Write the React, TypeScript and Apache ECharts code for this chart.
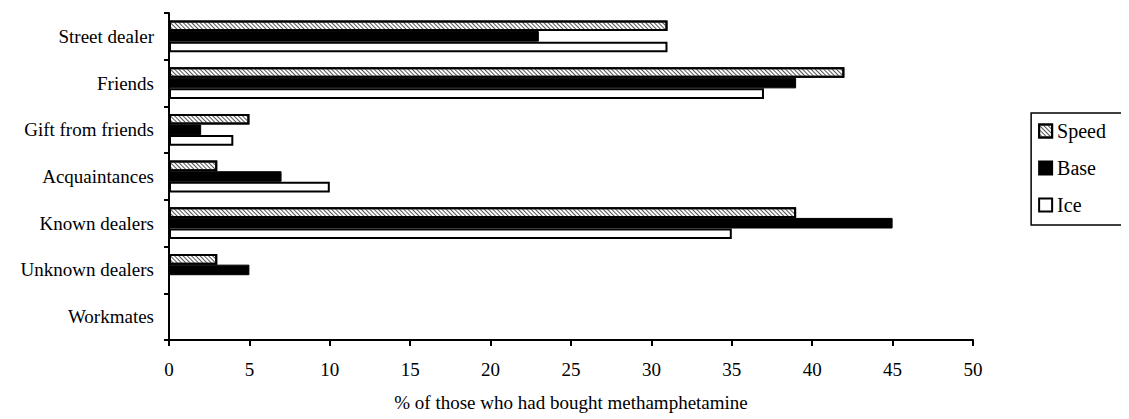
import React, { useEffect, useRef } from "react";
import * as echarts from "echarts";

const categories = [
  "Street dealer",
  "Friends",
  "Gift from friends",
  "Acquaintances",
  "Known dealers",
  "Unknown dealers",
  "Workmates",
];
const speed = [31, 42, 5, 3, 39, 3, 0];
const base = [23, 39, 2, 7, 45, 5, 0];
const ice = [31, 37, 4, 10, 35, 0, 0];
const legendNames = ["Speed", "Base", "Ice"];

const FONT = "Liberation Serif";

export default function App() {
  const ref = useRef<HTMLDivElement>(null);
  useEffect(() => {
    if (!ref.current) return;
    const chart = echarts.init(ref.current, null, { renderer: "svg" });
    chart.setOption({
      animation: false,
      textStyle: { fontFamily: FONT, color: "#000" },
      grid: { left: 161, top: 5, right: 156, bottom: 79, containLabel: false },
      legend: {
        orient: "vertical",
        right: 3,
        top: 105,
        borderColor: "#000",
        borderWidth: 1.5,
        padding: [8, 20, 10, 7],
        itemGap: 17,
        itemWidth: 13,
        itemHeight: 13,
        itemTextGap: 4,
        icon: "rect",
        textStyle: {
          fontFamily: FONT,
          fontSize: 20,
          color: "#000",
        },
        data: legendNames,
      },
      xAxis: {
        type: "value",
        min: 0,
        max: 50,
        interval: 5,
        splitLine: { show: false },
        axisLine: { show: true, lineStyle: { color: "#000", width: 2 } },
        axisTick: { show: true, length: 6, lineStyle: { color: "#000", width: 2 } },
        axisLabel: { fontFamily: FONT, fontSize: 19, color: "#000", margin: 20 },
        name: "% of those who had bought methamphetamine",
        nameLocation: "middle",
        nameGap: 53,
        nameTextStyle: { fontFamily: FONT, fontSize: 19, color: "#000" },
      },
      yAxis: {
        type: "category",
        inverse: true,
        data: categories,
        axisLine: { show: true, lineStyle: { color: "#000", width: 2 } },
        axisTick: { show: true, length: 5, lineStyle: { color: "#000", width: 2 } },
        axisLabel: { fontFamily: FONT, fontSize: 19, color: "#000", margin: 15 },
      },
      series: [
        {
          name: "Speed",
          type: "bar",
          data: speed,
          barGap: "0%",
          barCategoryGap: "32%",
          itemStyle: {
            color: "#fff",
            borderColor: "#000",
            borderWidth: 2,
            decal: {
              symbol: "rect",
              symbolSize: 1,
              color: "#555",
              backgroundColor: "#fff",
              dashArrayX: [1, 0],
              dashArrayY: [1, 2],
              rotation: Math.PI / 4,
            },
          },
        },
        {
          name: "Base",
          type: "bar",
          data: base,
          barGap: "0%",
          barCategoryGap: "32%",
          itemStyle: { color: "#000", borderColor: "#000", borderWidth: 1 },
        },
        {
          name: "Ice",
          type: "bar",
          data: ice,
          barGap: "0%",
          barCategoryGap: "32%",
          itemStyle: { color: "#fff", borderColor: "#000", borderWidth: 2 },
        },
      ],
    });
    return () => chart.dispose();
  }, []);
  return <div ref={ref} style={{ width: 1121, height: 411 }} />;
}
